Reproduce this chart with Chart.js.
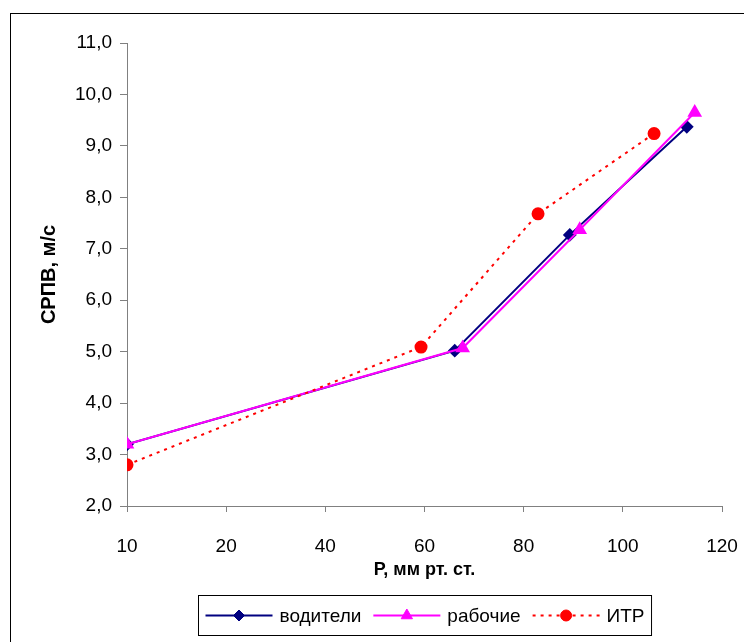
<!DOCTYPE html>
<html>
<head>
<meta charset="utf-8">
<script src="https://cdn.jsdelivr.net/npm/chart.js@4"></script>
<style>
  html, body { margin: 0; padding: 0; background: #fff; }
  #wrap { position: relative; width: 744px; height: 642px; overflow: hidden; }
</style>
</head>
<body>
<div id="wrap"><canvas id="chart" width="744" height="642"></canvas></div>
<script>
// P, mm Hg (x) and PWV, m/s (y)
const driversX = [0, 66.1, 89.3, 112.9];
const driversY = [3.2, 5.02, 7.27, 9.37];
const workersX = [0, 67.7, 91.3, 114.5];
const workersY = [3.2, 5.07, 7.37, 9.65];
const itrX = [0, 59.3, 82.9, 106.3];
const itrY = [2.8, 5.09, 7.68, 9.24];

const seriesNames = ['водители', 'рабочие', 'ИТР'];
const xTickLabels = ['10', '20', '40', '60', '80', '100', '120'];

const FONT = '"Liberation Sans", Arial, sans-serif';

function toPoints(xs, ys) {
  return xs.map((x, i) => ({ x: x, y: ys[i] }));
}

// outer frame (only left/top edges are visible in the picture)
const framePlugin = {
  id: 'frame',
  beforeDraw(chart) {
    const ctx = chart.ctx;
    ctx.save();
    ctx.strokeStyle = '#000';
    ctx.lineWidth = 1;
    ctx.strokeRect(10.5, 13.5, 900, 900);
    ctx.restore();
  }
};

// Excel-like boxed legend: line sample with marker in the middle
const boxLegend = {
  id: 'boxLegend',
  afterDraw(chart) {
    const ctx = chart.ctx;
    const sets = chart.data.datasets;
    const lineLen = 67, gapText = 7, gapItem = 12, pad = 7;
    ctx.save();
    ctx.font = '19px ' + FONT;
    const widths = sets.map(d => ctx.measureText(d.label).width);
    let total = pad * 2;
    widths.forEach((w, i) => { total += lineLen + gapText + w + (i < sets.length - 1 ? gapItem : 0); });
    const cx = (chart.chartArea.left + chart.chartArea.right) / 2;
    const left = Math.round(cx - total / 2) + 0.5;
    const top = chart.height - 46.5;
    const h = 40;
    ctx.strokeStyle = '#000';
    ctx.lineWidth = 1;
    ctx.strokeRect(left, top, total, h);
    const midY = top + h / 2;
    let x = left + pad;
    sets.forEach((d, i) => {
      ctx.strokeStyle = d.borderColor;
      ctx.lineWidth = 2;
      ctx.setLineDash(d.borderDash || []);
      ctx.beginPath();
      ctx.moveTo(x, midY);
      ctx.lineTo(x + lineLen, midY);
      ctx.stroke();
      ctx.setLineDash([]);
      ctx.fillStyle = d.pointBackgroundColor;
      ctx.strokeStyle = d.pointBorderColor;
      ctx.lineWidth = 1;
      Chart.helpers.drawPoint(ctx, {
        pointStyle: d.pointStyle,
        radius: d.pointRadius,
        borderWidth: 1,
        rotation: 0
      }, x + lineLen / 2, midY);
      x += lineLen + gapText;
      ctx.fillStyle = '#000';
      ctx.textBaseline = 'middle';
      ctx.textAlign = 'left';
      ctx.fillText(d.label, x, midY + 1);
      x += widths[i] + gapItem;
    });
    ctx.restore();
  }
};

const ctx = document.getElementById('chart').getContext('2d');
const chart = new Chart(ctx, {
  type: 'scatter',
  data: {
    datasets: [
      {
        label: seriesNames[0],
        data: toPoints(driversX, driversY),
        showLine: true,
        borderColor: '#000080',
        backgroundColor: '#000080',
        pointBackgroundColor: '#000080',
        pointBorderColor: '#000080',
        borderWidth: 2,
        pointStyle: 'rectRot',
        pointRadius: 5.5,
        order: 3
      },
      {
        label: seriesNames[1],
        data: toPoints(workersX, workersY),
        showLine: true,
        borderColor: '#FF00FF',
        backgroundColor: '#FF00FF',
        pointBackgroundColor: '#FF00FF',
        pointBorderColor: '#FF00FF',
        borderWidth: 2,
        pointStyle: 'triangle',
        pointRadius: 6.5,
        order: 2
      },
      {
        label: seriesNames[2],
        data: toPoints(itrX, itrY),
        showLine: true,
        borderColor: '#FF0000',
        backgroundColor: '#FF0000',
        pointBackgroundColor: '#FF0000',
        pointBorderColor: '#FF0000',
        borderWidth: 2,
        borderDash: [3, 5],
        pointStyle: 'circle',
        pointRadius: 5.5,
        order: 1
      }
    ]
  },
  options: {
    responsive: false,
    animation: false,
    layout: { padding: { left: 0, top: 43, right: 22, bottom: 56 } },
    plugins: {
      legend: { display: false },
      tooltip: { enabled: false }
    },
    scales: {
      x: {
        type: 'linear',
        min: 0,
        max: 120,
        afterFit(scale) {
          scale.height = 80;
          scale.paddingLeft = 0;
          scale.paddingRight = 0;
        },
        border: { display: true, color: '#808080', width: 1 },
        grid: { display: true, drawOnChartArea: false, drawTicks: true, tickLength: 6, color: '#808080' },
        ticks: {
          stepSize: 20,
          padding: 23,
          color: '#000',
          font: { family: FONT, size: 19 },
          callback: (v, i) => xTickLabels[i]
        },
        title: {
          display: true,
          text: 'Р, мм рт. ст.',
          color: '#000',
          font: { family: FONT, size: 18, weight: 'bold' },
          padding: { top: 0, bottom: 5 }
        }
      },
      y: {
        min: 2,
        max: 11,
        afterFit(scale) { scale.width = 127; },
        border: { display: true, color: '#808080', width: 1 },
        grid: { display: true, drawOnChartArea: false, drawTicks: true, tickLength: 7, color: '#808080' },
        ticks: {
          stepSize: 1,
          padding: 8,
          color: '#000',
          font: { family: FONT, size: 19 },
          callback: v => v.toFixed(1).replace('.', ',')
        },
        title: {
          display: true,
          text: 'СРПВ, м/с',
          color: '#000',
          font: { family: FONT, size: 20, weight: 'bold' },
          padding: { top: 37, bottom: 0 }
        }
      }
    }
  },
  plugins: [framePlugin, boxLegend]
});
</script>
</body>
</html>
